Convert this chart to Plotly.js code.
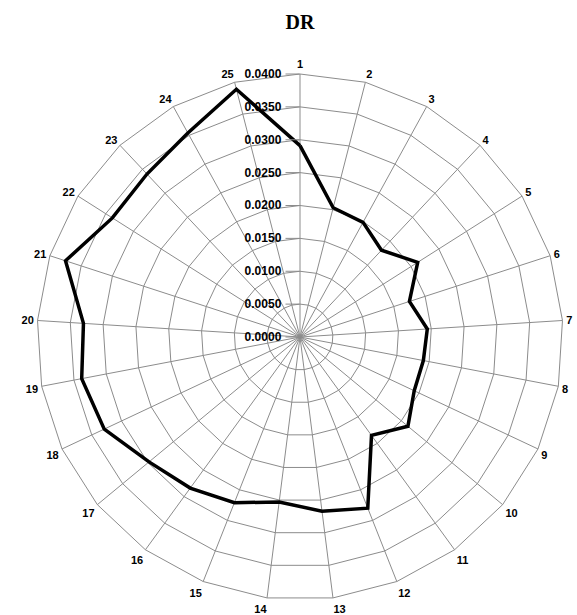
<!DOCTYPE html>
<html>
<head>
<meta charset="utf-8">
<script src="https://cdn.plot.ly/plotly-3.0.1.min.js"></script>
<style>
html,body{margin:0;padding:0;background:#fff;}
#chart{width:577px;height:615px;}
</style>
</head>
<body>
<div id="chart"></div>
<script>
var categories = ["1","2","3","4","5","6","7","8","9","10","11","12","13","14","15","16","17","18","19","20","21","22","23","24","25"];
var drValues = [0.0291,0.0203,0.0199,0.0181,0.0212,0.0175,0.0194,0.0191,0.0192,0.0213,0.0185,0.0280,0.0267,0.0253,0.0271,0.0284,0.0298,0.0329,0.0338,0.0330,0.0375,0.0338,0.0340,0.0354,0.0389];
var radialTicks = [0,0.005,0.01,0.015,0.02,0.025,0.03,0.035,0.04];

var thetaClosed = categories.concat([categories[0]]);
var rClosed = drValues.concat([drValues[0]]);

var trace = {
  type: 'scatterpolar',
  mode: 'lines',
  r: rClosed,
  theta: thetaClosed,
  line: {color: '#000000', width: 3.5},
  hoverinfo: 'skip',
  showlegend: false
};

var gridColor = '#8c8c8c';
var layout = {
  width: 577,
  height: 615,
  margin: {l: 37, r: 14, t: 74, b: 15},
  paper_bgcolor: '#ffffff',
  title: {
    text: '<b>DR</b>',
    font: {family: 'Liberation Serif, DejaVu Serif, serif', size: 20, color: '#000'},
    x: 0.5, xref: 'paper', xanchor: 'center',
    y: 0.965, yref: 'container', yanchor: 'middle'
  },
  polar: {
    domain: {x: [0, 1], y: [0, 1]},
    bgcolor: '#ffffff',
    gridshape: 'linear',
    angularaxis: {
      type: 'category',
      categoryarray: categories,
      direction: 'clockwise',
      rotation: 90,
      showline: true,
      linecolor: gridColor,
      linewidth: 1,
      gridcolor: gridColor,
      gridwidth: 1,
      ticks: 'outside',
      ticklen: 1,
      tickcolor: 'rgba(0,0,0,0)',
      tickfont: {family: 'Liberation Sans, Arial, sans-serif', size: 11, color: '#000', weight: 'bold'}
    },
    radialaxis: {
      range: [0, 0.04],
      tickvals: radialTicks,
      tickformat: '.4f',
      angle: 90,
      tickangle: 90,
      side: 'counterclockwise',
      showline: false,
      ticks: 'outside',
      ticklen: 14,
      tickcolor: gridColor,
      gridcolor: gridColor,
      gridwidth: 1,
      tickfont: {family: 'Liberation Sans, Arial, sans-serif', size: 12, color: '#000', weight: 'bold'}
    }
  }
};

Plotly.newPlot('chart', [trace], layout, {displayModeBar: false, staticPlot: true});
</script>
</body>
</html>
